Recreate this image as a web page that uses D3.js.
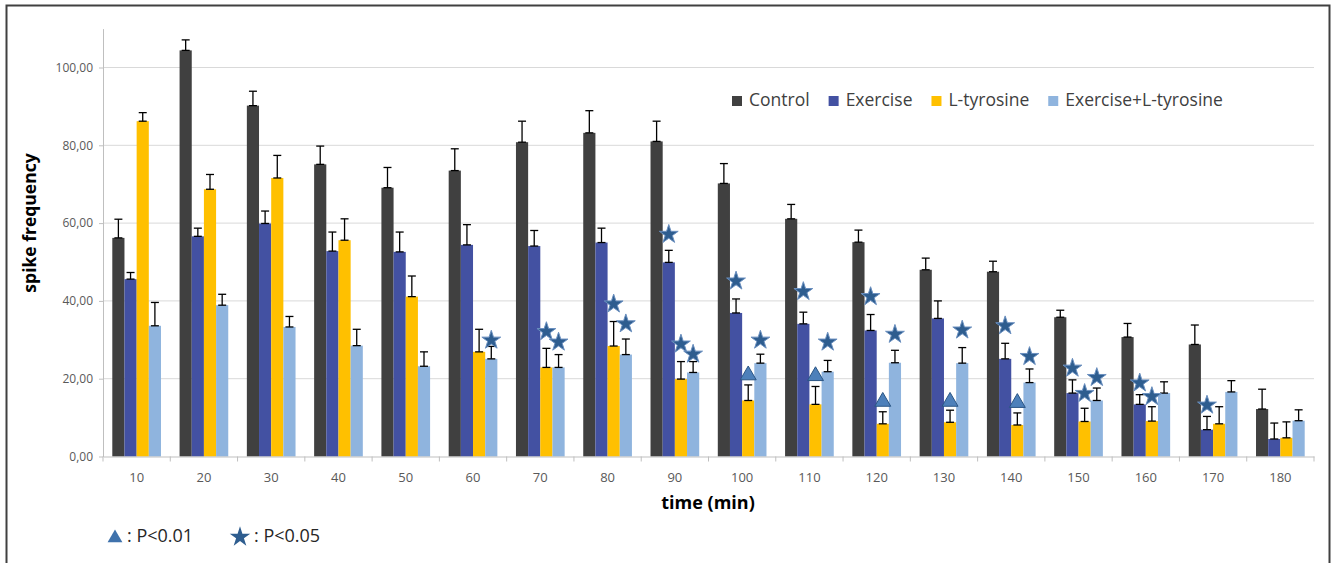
<!DOCTYPE html>
<html>
<head>
<meta charset="utf-8">
<script src="https://cdnjs.cloudflare.com/ajax/libs/d3/7.8.5/d3.min.js"></script>
<style>
body { margin: 0; background: #fff; }
svg text { font-family: "Open Sans", sans-serif; }
</style>
</head>
<body>
<script>
// spike frequency per group
var times = [10, 20, 30, 40, 50, 60, 70, 80, 90, 100, 110, 120, 130, 140, 150, 160, 170, 180];
var seriesNames = ["Control", "Exercise", "L-tyrosine", "Exercise+L-tyrosine"];
var seriesColors = ["#404040", "#4351a2", "#ffc000", "#8fb4de"];

var control     = [56.2, 104.4, 90.2, 75.1, 69.1, 73.5, 80.8, 83.2, 81.0, 70.2, 61.1, 55.1, 48.0, 47.5, 35.8, 30.7, 28.8, 12.2];
var controlErr  = [4.8, 2.7, 3.7, 4.7, 5.2, 5.6, 5.4, 5.7, 5.2, 5.1, 3.7, 3.1, 3.0, 2.7, 1.8, 3.5, 5.0, 5.1];
var exercise    = [45.6, 56.6, 59.9, 52.8, 52.6, 54.4, 54.1, 55.0, 49.9, 36.9, 34.1, 32.4, 35.5, 25.1, 16.3, 13.4, 6.9, 4.5];
var exerciseErr = [1.7, 2.1, 3.2, 4.9, 5.1, 5.2, 4.0, 3.7, 3.1, 3.6, 3.0, 4.1, 4.5, 4.0, 3.4, 2.5, 3.4, 4.1];
var ltyr        = [86.2, 68.7, 71.6, 55.6, 41.1, 26.9, 22.9, 28.4, 19.9, 14.4, 13.4, 8.4, 8.8, 8.1, 9.0, 9.1, 8.4, 4.8];
var ltyrErr     = [2.2, 3.8, 5.8, 5.5, 5.3, 5.8, 4.9, 6.3, 4.5, 4.0, 4.6, 3.1, 3.1, 3.1, 3.4, 3.7, 4.4, 4.1];
var combo       = [33.6, 38.9, 33.3, 28.5, 23.2, 25.1, 22.9, 26.2, 21.6, 24.0, 21.8, 24.1, 24.0, 19.0, 14.4, 16.3, 16.6, 9.2];
var comboErr    = [6.0, 2.8, 2.7, 4.2, 3.7, 3.2, 3.3, 4.0, 2.8, 2.3, 2.9, 3.2, 4.0, 3.5, 3.2, 2.9, 2.9, 2.8];

var yTicks = [0, 20, 40, 60, 80, 100];

// significance markers: [time, series index, shape, y value of marker centre]
var markers = [
    [60, 3, "star", 29.9],
    [70, 2, "star", 32.1], [70, 3, "star", 29.4],
    [80, 2, "star", 39.2], [80, 3, "star", 34.1],
    [90, 1, "star", 57.1], [90, 2, "star", 28.9], [90, 3, "star", 26.3],
    [100, 1, "star", 45.1], [100, 2, "tri", 20.9], [100, 3, "star", 29.9],
    [110, 1, "star", 42.4], [110, 2, "tri", 20.7], [110, 3, "star", 29.4],
    [120, 1, "star", 41.1], [120, 2, "tri", 14.1], [120, 3, "star", 31.4],
    [130, 2, "tri", 14.1], [130, 3, "star", 32.5],
    [140, 1, "star", 33.6], [140, 2, "tri", 13.8], [140, 3, "star", 25.7],
    [150, 1, "star", 22.7], [150, 2, "star", 16.2], [150, 3, "star", 20.3],
    [160, 1, "star", 18.9], [160, 2, "star", 15.4],
    [170, 1, "star", 13.2]
];

var values = [control, exercise, ltyr, combo];
var errors = [controlErr, exerciseErr, ltyrErr, comboErr];

var rows = [];
times.forEach(function(t, i) {
    seriesNames.forEach(function(s, j) {
        rows.push({ time: t, series: s, idx: j, v: values[j][i], e: errors[j][i] });
    });
});

var svg = d3.select("body").append("svg")
    .attr("width", 1333)
    .attr("height", 563);

// outer frame
svg.append("rect")
    .attr("x", 6.5).attr("y", 5.5)
    .attr("width", 1323).attr("height", 580)
    .attr("fill", "none")
    .attr("stroke", "#404040")
    .attr("stroke-width", 2);

var x0 = d3.scaleBand().domain(times).range([103, 1314]);
var x1 = d3.scaleBand().domain(seriesNames).range([0, x0.bandwidth()]).paddingOuter(0.764);
var y = d3.scaleLinear().domain([0, 110]).range([456.5, 28.6]);

// gridlines
svg.append("g").selectAll("line")
    .data(yTicks.slice(1))
    .enter().append("line")
    .attr("x1", 103).attr("x2", 1314)
    .attr("y1", function(d) { return y(d); })
    .attr("y2", function(d) { return y(d); })
    .attr("stroke", "#d9d9d9")
    .attr("stroke-width", 1);

// y axis
var yAxis = svg.append("g")
    .attr("transform", "translate(103,0)")
    .call(d3.axisLeft(y).tickValues(yTicks).tickSize(4).tickSizeOuter(0).tickPadding(6)
        .tickFormat(function(d) { return d3.format(".2f")(d).replace(".", ","); }));
yAxis.select(".domain").attr("stroke", "#bfbfbf");
yAxis.selectAll(".tick line").attr("stroke", "#bfbfbf");
yAxis.selectAll("text").attr("fill", "#595959").style("font-size", "12px");

// bars
var bars = svg.append("g");
bars.selectAll("rect")
    .data(rows)
    .enter().append("rect")
    .attr("x", function(d) { return x0(d.time) + x1(d.series); })
    .attr("y", function(d) { return y(d.v); })
    .attr("width", x1.bandwidth())
    .attr("height", function(d) { return y(0) - y(d.v); })
    .attr("fill", function(d) { return seriesColors[d.idx]; });

// error bars (plus side, capped at both ends)
var cap = 4;
var eb = svg.append("g").attr("stroke", "#000").attr("stroke-width", 1.3);
rows.forEach(function(d) {
    var cx = x0(d.time) + x1(d.series) + x1.bandwidth() / 2;
    var y1 = y(d.v), y2 = y(d.v + d.e);
    eb.append("line").attr("x1", cx).attr("x2", cx).attr("y1", y1).attr("y2", y2);
    eb.append("line").attr("x1", cx - cap).attr("x2", cx + cap).attr("y1", y1).attr("y2", y1);
    eb.append("line").attr("x1", cx - cap).attr("x2", cx + cap).attr("y1", y2).attr("y2", y2);
});

// x axis
var xAxis = svg.append("g")
    .attr("transform", "translate(0," + y(0) + ")")
    .call(d3.axisBottom(x0).tickSize(0).tickPadding(16).tickSizeOuter(0));
xAxis.select(".domain").attr("stroke", "#bfbfbf");
xAxis.selectAll("text").attr("fill", "#595959").style("font-size", "13px");
var bounds = times.map(function(t) { return x0(t); }).concat([x0.range()[1]]);
xAxis.selectAll(".bound")
    .data(bounds)
    .enter().append("line")
    .attr("x1", function(d) { return d; })
    .attr("x2", function(d) { return d; })
    .attr("y1", 0).attr("y2", 5)
    .attr("stroke", "#bfbfbf");

// significance markers
var starPath = d3.symbol(d3.symbolStar, 110);
var triPath = d3.symbol(d3.symbolTriangle, 110);
svg.append("g").selectAll("path")
    .data(markers)
    .enter().append("path")
    .attr("d", function(d) { return d[2] == "star" ? starPath() : triPath(); })
    .attr("transform", function(d) {
        var cx = x0(d[0]) + x1(seriesNames[d[1]]) + x1.bandwidth() / 2;
        return "translate(" + cx + "," + y(d[3]) + ")";
    })
    .attr("fill", function(d) { return d[2] == "star" ? "#2e5d8f" : "#4d80ba"; })
    .attr("stroke", function(d) { return d[2] == "star" ? "#6a8fbf" : "#2a5584"; })
    .attr("stroke-width", 1);

// axis titles
svg.append("text")
    .attr("transform", "translate(31,223) rotate(-90)")
    .attr("text-anchor", "middle")
    .attr("dominant-baseline", "middle")
    .style("font-size", "17.5px")
    .style("font-weight", "bold")
    .attr("fill", "#000")
    .text("spike frequency");

svg.append("text")
    .attr("x", 708).attr("y", 504)
    .attr("text-anchor", "middle")
    .attr("dominant-baseline", "middle")
    .style("font-size", "18px")
    .style("font-weight", "bold")
    .attr("fill", "#000")
    .text("time (min)");

// series legend
var lx = 732;
seriesNames.forEach(function(s, j) {
    svg.append("rect")
        .attr("x", lx).attr("y", 96)
        .attr("width", 10).attr("height", 10)
        .attr("fill", seriesColors[j]);
    var t = svg.append("text")
        .attr("x", lx + 17).attr("y", 101)
        .attr("dominant-baseline", "middle")
        .style("font-size", "17.5px")
        .attr("fill", "#404040")
        .text(s);
    lx = lx + 17 + t.node().getComputedTextLength() + 19;
});

// significance legend
svg.append("path")
    .attr("d", d3.symbol(d3.symbolTriangle, 95)())
    .attr("transform", "translate(115,538)")
    .attr("fill", "#3f72ac");
svg.append("text")
    .attr("x", 127).attr("y", 537)
    .attr("dominant-baseline", "middle")
    .style("font-size", "18px")
    .attr("fill", "#262626")
    .text(": P<0.01");
svg.append("path")
    .attr("d", d3.symbol(d3.symbolStar, 130)())
    .attr("transform", "translate(240,537)")
    .attr("fill", "#2e5d8f");
svg.append("text")
    .attr("x", 254).attr("y", 537)
    .attr("dominant-baseline", "middle")
    .style("font-size", "18px")
    .attr("fill", "#262626")
    .text(": P<0.05");
</script>
</body>
</html>
